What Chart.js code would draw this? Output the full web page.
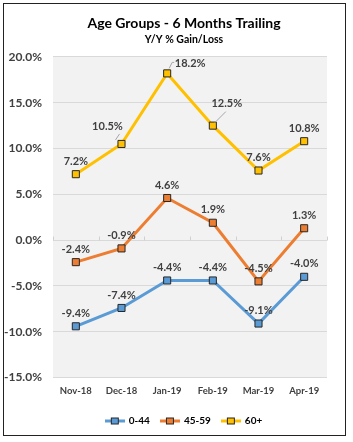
<!DOCTYPE html>
<html>
<head>
<meta charset="utf-8">
<script src="https://cdn.jsdelivr.net/npm/chart.js@4.4.0/dist/chart.umd.min.js"></script>
<style>
  body { margin: 0; background: #fff; }
  #wrap { position: relative; width: 353px; height: 442px; }
  #frame { position: absolute; left: 3px; top: 3px; width: 341px; height: 431px; border: 1px solid #222; pointer-events: none; }
  canvas { position: absolute; left: 0; top: 0; }
</style>
</head>
<body>
<div id="wrap">
  <canvas id="chart" width="353" height="442"></canvas>
  <div id="frame"></div>
</div>
<script>
const months = ['Nov-18', 'Dec-18', 'Jan-19', 'Feb-19', 'Mar-19', 'Apr-19'];
const age0to44 = [-9.4, -7.4, -4.4, -4.4, -9.1, -4.0];
const age45to59 = [-2.4, -0.9, 4.6, 1.9, -4.5, 1.3];
const age60plus = [7.2, 10.5, 18.2, 12.5, 7.6, 10.8];
const yTicks = [-15, -10, -5, 0, 5, 10, 15, 20];
const seriesNames = ['0-44', '45-59', '60+'];
const seriesColors = ['#5b9bd5', '#ed7d31', '#ffc000'];

const FONT = 'Lato, "Liberation Sans", sans-serif';
const textColor = '#404040';
const yFont = 'bold 12px ' + FONT;

// label placement tweaks (dataset index -> point index)
const labelTweaks = {
  2: {
    1: { dx: -14, dy: -17, leader: [[-6, -4], [-2, -10]] },
    2: { dx: 23, dy: -10, leader: [[2, -5], [5, -11], [7, -11]] },
    3: { dx: 14, dy: -22, leader: [[2, -3], [13, -14]] }
  }
};

const fmt = v => v.toFixed(1) + '%';

// widest y label, so the mirrored labels can be right-aligned left of the plot
const mctx = document.createElement('canvas').getContext('2d');
mctx.font = yFont;
const widestY = Math.max(...yTicks.map(v => mctx.measureText(fmt(v)).width));

// legend sample: short line with a square marker
function legendSample(color) {
  const c = document.createElement('canvas');
  c.width = 20; c.height = 9;
  const g = c.getContext('2d');
  g.strokeStyle = color; g.lineWidth = 3;
  g.beginPath(); g.moveTo(0, 4.5); g.lineTo(20, 4.5); g.stroke();
  g.fillStyle = color; g.fillRect(6.5, 1.5, 7, 6);
  g.strokeStyle = '#262626'; g.lineWidth = 1;
  g.strokeRect(6.5, 1.5, 7, 6);
  return c;
}

const plotBackground = {
  id: 'plotBackground',
  beforeDraw(chart) {
    const { ctx, chartArea: a } = chart;
    ctx.save();
    ctx.fillStyle = '#f2f2f2';
    ctx.fillRect(a.left, a.top, a.right - a.left, a.bottom - a.top);
    ctx.restore();
  },
  beforeDatasetsDraw(chart) {
    // category tick marks on the zero line
    const { ctx, chartArea: a, scales } = chart;
    const y0 = Math.round(scales.y.getPixelForValue(0)) + 0.5;
    const step = (a.right - a.left) / months.length;
    ctx.save();
    ctx.strokeStyle = '#d0d0d0';
    ctx.lineWidth = 1;
    ctx.beginPath();
    for (let i = 0; i <= months.length; i++) {
      const x = Math.round(a.left + i * step) + 0.5;
      ctx.moveTo(x, y0);
      ctx.lineTo(x, y0 - 4);
    }
    ctx.stroke();
    ctx.restore();
  }
};

const dataLabels = {
  id: 'dataLabels',
  afterDatasetsDraw(chart) {
    const { ctx } = chart;
    ctx.save();
    ctx.font = 'bold 11px ' + FONT;
    ctx.fillStyle = textColor;
    ctx.textAlign = 'center';
    ctx.textBaseline = 'middle';
    chart.data.datasets.forEach((ds, di) => {
      const meta = chart.getDatasetMeta(di);
      meta.data.forEach((pt, i) => {
        const t = (labelTweaks[di] && labelTweaks[di][i]) || { dx: 0, dy: -13 };
        if (t.leader) {
          ctx.strokeStyle = '#a6a6a6';
          ctx.lineWidth = 1;
          ctx.beginPath();
          t.leader.forEach(([lx, ly], k) => {
            if (k === 0) ctx.moveTo(pt.x + lx, pt.y + ly);
            else ctx.lineTo(pt.x + lx, pt.y + ly);
          });
          ctx.stroke();
        }
        ctx.fillText(fmt(ds.data[i]), pt.x + t.dx, pt.y + t.dy);
      });
    });
    ctx.restore();
  }
};

const datasets = [age0to44, age45to59, age60plus].map((vals, i) => ({
  label: seriesNames[i],
  data: vals,
  borderColor: seriesColors[i],
  backgroundColor: seriesColors[i],
  borderWidth: 3,
  pointStyle: 'rect',
  pointRadius: 5,
  pointBorderColor: '#262626',
  pointBorderWidth: 1,
  pointBackgroundColor: seriesColors[i],
  tension: 0
}));

new Chart(document.getElementById('chart'), {
  type: 'line',
  data: { labels: months, datasets: datasets },
  options: {
    responsive: false,
    animation: false,
    devicePixelRatio: 1,
    layout: { padding: { left: 41, right: 26, top: 0, bottom: 6 } },
    plugins: {
      title: {
        display: true,
        text: 'Age Groups - 6 Months Trailing',
        color: '#000',
        font: { family: FONT, size: 14, weight: 'bold' },
        padding: { top: 15, bottom: 2 }
      },
      subtitle: {
        display: true,
        text: 'Y/Y % Gain/Loss',
        color: '#000',
        font: { family: FONT, size: 10.5, weight: 'bold' },
        padding: { top: 0, bottom: 10.5 }
      },
      legend: {
        position: 'bottom',
        labels: {
          usePointStyle: true,
          pointStyleWidth: 18,
          padding: 11,
          color: textColor,
          font: { family: FONT, size: 10, weight: 'bold' },
          generateLabels(chart) {
            return chart.data.datasets.map((ds, i) => ({
              text: ds.label,
              pointStyle: legendSample(seriesColors[i]),
              fillStyle: seriesColors[i],
              strokeStyle: seriesColors[i],
              lineWidth: 0,
              hidden: false,
              datasetIndex: i
            }));
          }
        }
      },
      tooltip: { enabled: false }
    },
    scales: {
      x: {
        offset: true,
        grid: { display: false, drawTicks: false },
        border: { display: false },
        ticks: {
          padding: 8,
          color: textColor,
          font: { family: FONT, size: 9.5, weight: 'bold' }
        }
      },
      y: {
        min: -15,
        max: 20,
        afterBuildTicks(scale) { scale.ticks = yTicks.map(v => ({ value: v })); },
        grid: { color: '#d9d9d9', drawTicks: false },
        border: { display: false },
        ticks: {
          mirror: true,
          crossAlign: 'far',
          padding: -11 - widestY,
          color: textColor,
          font: { family: FONT, size: 12, weight: 'bold' },
          callback: v => fmt(v)
        },
        afterFit(scale) { scale.width = 12; }
      }
    }
  },
  plugins: [plotBackground, dataLabels]
});
</script>
</body>
</html>
